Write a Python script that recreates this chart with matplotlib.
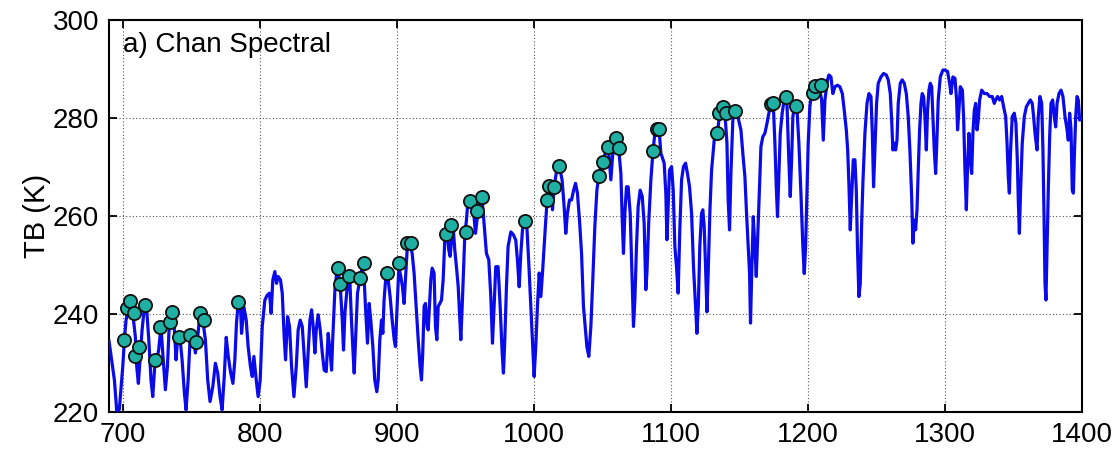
import matplotlib
matplotlib.use("Agg")
import matplotlib.pyplot as plt

plt.rcParams['font.family'] = ['Liberation Sans', 'DejaVu Sans']

# Brightness-temperature spectrum (wavenumber in cm-1, TB in K)
wavenumber = [
    690.0, 693.9, 695.6, 697.5, 700.0, 701.2, 702.4, 704.3, 706.0, 707.3, 709.2, 710.2, 711.4,
    712.6, 714.1, 715.8, 717.5, 719.0, 720.6, 721.9, 723.3, 724.8, 726.2, 727.9, 729.2, 731.1,
    732.6, 734.0, 736.0, 737.7, 738.9, 740.1, 741.8, 743.3, 745.0, 746.2, 747.7, 749.1, 751.1,
    753.0, 754.7, 756.4, 758.4, 760.3, 762.0, 763.7, 765.7, 767.6, 769.3, 771.0, 772.5, 774.0,
    775.5, 777.0, 778.6, 780.4, 781.8, 783.0, 784.2, 786.0, 786.7, 788.4, 790.1, 791.5, 793.2,
    794.5, 795.7, 797.4, 798.8, 800.3, 801.8, 803.7, 805.4, 807.1, 808.3, 809.5, 811.0, 812.2,
    813.4, 815.1, 816.4, 817.8, 818.8, 820.3, 821.7, 823.2, 824.9, 826.6, 828.0, 829.5, 831.0,
    832.4, 833.9, 835.3, 836.6, 837.8, 839.0, 840.2, 841.2, 842.6, 844.1, 845.6, 847.0, 848.5,
    849.9, 851.4, 852.4, 853.3, 854.8, 856.3, 857.7, 858.9, 860.2, 861.1, 862.1, 863.6, 865.7,
    866.9, 868.1, 868.9, 870.1, 871.3, 873.0, 874.7, 876.2, 877.1, 878.6, 879.8, 881.0, 882.5,
    883.9, 885.4, 886.4, 887.6, 888.8, 889.8, 890.7, 892.2, 893.7, 895.1, 896.6, 898.1, 899.0,
    900.0, 901.5, 902.9, 904.1, 905.3, 906.6, 907.8, 909.5, 911.2, 912.6, 914.1, 915.6, 917.0,
    918.0, 918.9, 919.9, 920.9, 922.1, 922.9, 923.8, 924.8, 925.8, 927.2, 928.2, 929.2, 930.2,
    931.4, 932.6, 933.8, 935.0, 936.5, 937.9, 938.9, 939.9, 941.1, 942.3, 943.5, 944.8, 946.0,
    946.7, 947.7, 949.6, 950.8, 952.0, 954.0, 955.7, 957.4, 958.8, 960.5, 962.3, 963.7, 965.4,
    967.1, 968.6, 969.8, 971.0, 972.2, 973.9, 975.4, 976.9, 977.8, 978.8, 980.0, 981.2, 983.2,
    985.1, 986.8, 988.0, 989.3, 990.5, 991.7, 993.4, 994.9, 996.3, 997.8, 999.2, 1000.2, 1001.4,
    1002.6, 1003.9, 1005.1, 1006.3, 1007.5, 1008.7, 1009.7, 1010.9, 1012.4, 1013.6, 1014.8,
    1016.3, 1017.7, 1019.2, 1020.6, 1022.1, 1023.3, 1024.5, 1026.0, 1027.5, 1029.0, 1030.4,
    1031.8, 1033.3, 1034.8, 1036.2, 1038.7, 1040.1, 1041.6, 1043.0, 1044.5, 1046.0, 1047.4,
    1049.4, 1051.3, 1053.0, 1054.7, 1056.2, 1057.4, 1058.6, 1060.3, 1062.0, 1063.5, 1064.5,
    1065.4, 1066.4, 1067.6, 1068.8, 1070.3, 1071.7, 1072.7, 1073.7, 1074.9, 1076.1, 1077.6,
    1079.1, 1080.5, 1081.7, 1082.5, 1083.9, 1085.4, 1086.8, 1088.3, 1089.8, 1091.2, 1092.7,
    1093.6, 1095.1, 1096.3, 1097.1, 1097.8, 1099.0, 1100.5, 1101.7, 1102.9, 1104.1, 1105.3,
    1106.5, 1107.8, 1109.2, 1110.7, 1112.1, 1113.6, 1115.1, 1116.5, 1118.0, 1119.0, 1120.0,
    1121.1, 1122.4, 1123.3, 1124.3, 1125.3, 1126.3, 1127.2, 1128.5, 1129.7, 1131.6, 1134.0,
    1135.7, 1137.5, 1139.4, 1140.9, 1141.8, 1142.8, 1143.8, 1145.2, 1147.2, 1149.1, 1151.1,
    1152.5, 1154.0, 1155.2, 1156.4, 1157.4, 1158.1, 1159.1, 1160.1, 1161.3, 1162.3, 1163.2,
    1164.5, 1165.7, 1167.1, 1168.6, 1170.1, 1171.5, 1173.0, 1174.7, 1175.9, 1176.9, 1177.8,
    1178.8, 1179.8, 1181.2, 1183.2, 1184.7, 1185.9, 1187.1, 1188.1, 1189.0, 1190.5, 1191.9,
    1193.4, 1194.9, 1196.3, 1197.3, 1198.3, 1199.3, 1200.2, 1201.4, 1202.7, 1204.1, 1206.1,
    1208.0, 1210.0, 1211.2, 1212.4, 1214.3, 1215.3, 1216.8, 1218.2, 1219.7, 1221.6, 1223.3,
    1225.1, 1226.5, 1228.0, 1229.0, 1229.9, 1230.9, 1231.9, 1233.1, 1234.3, 1235.3, 1236.2,
    1237.2, 1238.2, 1239.2, 1240.1, 1241.6, 1243.1, 1244.5, 1246.0, 1247.0, 1247.9, 1248.9,
    1250.1, 1251.3, 1253.3, 1255.2, 1257.2, 1258.6, 1260.1, 1261.1, 1262.0, 1263.0, 1264.0,
    1265.0, 1265.9, 1267.4, 1268.8, 1270.3, 1271.8, 1273.2, 1274.4, 1275.7, 1276.6, 1277.6,
    1278.6, 1279.6, 1280.5, 1281.5, 1282.5, 1283.4, 1284.4, 1285.4, 1286.4, 1287.3, 1288.3,
    1289.3, 1290.3, 1291.2, 1292.2, 1293.2, 1294.2, 1295.1, 1296.6, 1298.5, 1300.0, 1301.9,
    1303.4, 1304.4, 1305.8, 1307.3, 1308.5, 1309.2, 1310.2, 1311.2, 1312.7, 1313.6, 1314.6,
    1315.6, 1316.5, 1317.5, 1318.5, 1319.5, 1320.4, 1321.4, 1322.4, 1323.4, 1324.3, 1325.3,
    1326.8, 1328.7, 1330.7, 1332.6, 1334.5, 1336.0, 1337.0, 1338.4, 1339.9, 1341.4, 1342.8,
    1344.3, 1345.3, 1346.2, 1347.0, 1347.9, 1349.1, 1350.6, 1351.8, 1352.8, 1353.5, 1354.3,
    1355.2, 1356.4, 1357.9, 1359.4, 1360.8, 1362.3, 1363.7, 1364.7, 1365.7, 1367.2, 1368.1,
    1369.3, 1370.6, 1371.5, 1372.3, 1373.0, 1373.7, 1374.5, 1375.4, 1376.4, 1377.4, 1378.6,
    1379.8, 1380.8, 1381.8, 1383.2, 1384.7, 1386.1, 1387.6, 1389.1, 1390.0, 1391.0, 1392.0,
    1392.9, 1393.7, 1394.4, 1395.4, 1396.4, 1397.3, 1398.3, 1400.0,
]

tb = [
    234.5, 226.6, 220.3, 220.6, 229.3, 234.8, 238.8, 241.5, 242.2, 240.2, 235.4, 229.3, 225.9,
    230.7, 236.8, 241.5, 240.9, 234.8, 226.6, 223.2, 229.3, 230.7, 232.7, 237.5, 232.1, 224.6,
    229.3, 238.2, 240.9, 236.8, 230.7, 235.4, 235.1, 230.7, 223.9, 220.5, 226.6, 234.8, 235.8,
    232.1, 235.4, 240.2, 238.8, 234.8, 226.6, 222.2, 225.2, 230.0, 228.0, 223.2, 220.5, 227.0,
    235.3, 231.4, 228.3, 225.9, 230.7, 238.2, 242.2, 240.9, 236.1, 241.5, 238.8, 233.4, 229.3,
    227.3, 231.4, 226.6, 223.2, 226.6, 237.5, 242.9, 243.9, 244.3, 240.2, 247.0, 248.7, 246.3,
    247.7, 247.0, 244.3, 235.4, 230.7, 239.5, 237.5, 229.3, 223.2, 229.3, 236.8, 238.8, 237.5,
    231.4, 225.2, 232.1, 238.8, 240.9, 237.5, 232.1, 236.8, 239.9, 236.8, 232.1, 228.6, 228.3,
    236.1, 232.1, 228.6, 235.4, 244.9, 249.0, 247.7, 244.9, 238.8, 232.7, 240.2, 244.9, 247.0,
    238.8, 232.0, 228.0, 236.1, 244.3, 247.0, 249.7, 247.0, 241.6, 234.1, 242.2, 238.8, 233.4,
    226.6, 224.2, 226.6, 234.8, 238.8, 236.1, 242.9, 248.4, 247.0, 243.6, 238.8, 234.8, 233.4,
    240.2, 249.7, 247.7, 245.6, 242.2, 248.4, 254.5, 254.5, 252.4, 248.4, 241.6, 234.8, 229.3,
    226.6, 232.0, 241.6, 242.2, 237.5, 236.8, 241.6, 247.0, 249.4, 248.4, 237.5, 234.8, 241.6,
    242.2, 242.9, 247.0, 255.2, 257.2, 253.1, 251.8, 255.2, 257.9, 253.1, 249.7, 245.6, 238.8,
    234.8, 241.6, 256.0, 259.2, 263.3, 263.3, 262.0, 256.5, 259.9, 263.3, 263.3, 258.5, 252.4,
    251.1, 243.6, 234.1, 241.6, 249.7, 249.7, 241.6, 232.0, 228.0, 234.8, 245.6, 253.8, 256.8,
    256.2, 255.1, 251.1, 245.6, 252.4, 257.2, 259.2, 257.9, 250.4, 241.6, 233.4, 227.3, 233.4,
    241.6, 248.4, 243.6, 248.4, 253.8, 259.2, 263.3, 266.0, 266.4, 261.3, 266.0,
    268.7, 270.1, 269.4, 267.4, 261.9, 256.5, 260.6, 263.3, 263.3, 265.3, 266.7,
    264.7, 259.2, 252.4, 241.6, 233.4, 231.4, 237.5, 247.0, 257.9, 265.3, 268.1,
    270.8, 272.1, 273.5, 272.8, 267.4, 272.1, 274.9, 275.5, 273.5, 268.7, 259.2,
    252.4, 260.6, 266.0, 266.0, 260.6, 247.0, 237.5, 242.9, 253.8, 262.0, 265.3,
    264.0, 258.5, 245.0, 248.4, 259.2, 267.4, 272.8, 276.9, 278.3, 278.3, 272.8,
    272.1, 270.8, 264.7, 255.2, 260.6, 269.4, 270.1, 265.3, 253.8, 249.7, 244.3,
    257.2, 267.4, 270.1, 270.8, 268.7, 266.0, 260.6, 249.7, 241.6, 236.1, 241.6,
    253.8, 260.6, 261.3, 257.9, 249.7, 240.5, 248.3, 261.3, 269.4, 275.5, 277.2,
    281.0, 282.3, 281.0, 274.9, 263.3, 257.2, 268.7, 279.6, 281.7, 280.0, 277.6,
    272.8, 268.1, 260.6, 253.8, 248.4, 238.2, 249.7, 259.9, 253.8, 247.7, 254.5,
    264.6, 274.2, 276.2, 276.9, 278.9, 281.0, 283.0, 283.0, 274.9, 266.0, 259.9,
    268.1, 276.9, 281.0, 284.7, 283.0, 272.8, 264.0, 271.5, 280.3, 283.0, 282.3,
    274.9, 264.6, 253.8, 248.3, 253.8, 264.6, 274.9, 282.3, 285.1, 287.1, 287.1,
    286.8, 283.7, 275.5, 283.7, 287.8, 288.8, 288.4, 285.0, 286.4, 286.7, 286.4,
    285.0, 281.6, 277.6, 273.5, 266.7, 257.2, 264.0, 271.5, 271.5, 265.3, 253.1,
    243.6, 246.3, 258.5, 266.7, 276.9, 283.0, 285.0, 284.4, 276.9, 266.0, 273.5,
    283.0, 287.1, 288.4, 289.1, 288.8, 287.8, 285.0, 279.6, 273.5, 274.9, 273.5,
    275.5, 283.0, 287.1, 287.8, 287.1, 285.0, 280.3, 273.5, 264.0, 254.5, 259.2,
    257.2, 261.3, 269.4, 277.6, 283.0, 285.0, 284.4, 280.3, 273.5, 281.6, 285.7,
    287.1, 286.4, 280.3, 273.5, 268.7, 276.2, 283.7, 288.4, 289.8, 289.8, 289.5,
    287.1, 285.0, 288.4, 288.1, 283.7, 277.6, 281.6, 286.4, 285.7, 280.3, 269.4,
    261.3, 270.1, 276.9, 271.5, 268.7, 276.9, 281.6, 283.0, 277.6, 279.6, 283.7,
    285.7, 285.0, 285.0, 284.4, 284.4, 283.0, 283.7, 284.4, 283.7, 284.4, 282.3,
    280.3, 274.9, 268.1, 264.7, 273.5, 280.3, 281.0, 278.9, 271.5, 263.3, 256.5,
    265.3, 274.9, 280.3, 282.3, 283.0, 283.7, 283.0, 280.3, 276.9, 273.5, 280.3,
    284.4, 283.0, 273.5, 259.9, 246.3, 242.9, 253.1, 265.3, 276.2, 283.0, 283.7,
    280.3, 278.2, 283.0, 285.0, 285.7, 284.4, 280.3, 277.6, 275.5, 281.0, 277.6,
    265.3, 264.7, 272.1, 280.3, 284.4, 283.7, 279.6, 280.3,
]

# Selected channels
chan_wn = [
    700.7, 703.1, 705.5, 708.0, 709.2, 712.1, 716.0, 723.3, 727.0, 734.3, 736.0, 741.3, 749.3,
    753.5, 756.2, 759.1, 784.0, 857.0, 858.7, 865.0, 873.0, 875.9, 892.9, 901.7, 907.5, 910.0,
    935.8, 939.2, 950.4, 953.3, 958.6, 962.0, 993.9, 1009.7, 1010.9, 1014.6, 1018.0, 1047.2,
    1050.1, 1054.2, 1059.9, 1062.3, 1086.6, 1089.5, 1091.2, 1133.8, 1135.2, 1138.2, 1140.1,
    1146.7, 1173.0, 1174.7, 1183.7, 1191.0, 1203.4, 1205.1, 1209.5,
]
chan_tb = [
    234.8, 241.2, 242.6, 240.2, 231.4, 233.4, 241.9, 230.7, 237.5, 238.5, 240.5, 235.3, 235.8,
    234.3, 240.2, 238.8, 242.5, 249.5, 246.1, 247.8, 247.3, 250.4, 248.5, 250.5, 254.5, 254.6,
    256.3, 258.2, 256.8, 263.1, 261.1, 263.9, 259.0, 263.3, 266.2, 265.9, 270.2, 268.1,
    271.0, 274.2, 275.9, 273.8, 273.3, 277.7, 277.7, 277.0, 281.0, 282.3, 281.1,
    281.5, 282.8, 283.0, 284.2, 282.5, 285.1, 286.5, 286.7,
]

x_ticks = [700, 800, 900, 1000, 1100, 1200, 1300, 1400]
y_ticks = [220, 240, 260, 280, 300]

fig = plt.figure(figsize=(11.15, 4.55), dpi=100)
ax = fig.add_axes([0.0978, 0.0938, 0.8726, 0.8622])

ax.plot(wavenumber, tb, color='#0a0aea', linewidth=2.3, zorder=3)
ax.plot(chan_wn, chan_tb, 'o', markersize=9.5, markerfacecolor='#1fb0a3',
        markeredgecolor='#111111', markeredgewidth=1.3, zorder=4)

ax.set_xlim(690, 1400)
ax.set_ylim(220, 300)
ax.set_xticks(x_ticks)
ax.set_yticks(y_ticks)
ax.grid(True, color='#555555', linestyle=(0, (1, 2)), linewidth=0.8, zorder=1)
ax.tick_params(direction='in', length=6, width=1.3, top=True, right=True,
               labelsize=20, pad=7)
for sp in ax.spines.values():
    sp.set_linewidth(1.5)

ax.set_ylabel('TB (K)', fontsize=21, labelpad=1)
ax.text(0.014, 0.936, 'a) Chan Spectral', transform=ax.transAxes,
        fontsize=20, va='center', ha='left')

fig.savefig('out.png', dpi=100)
